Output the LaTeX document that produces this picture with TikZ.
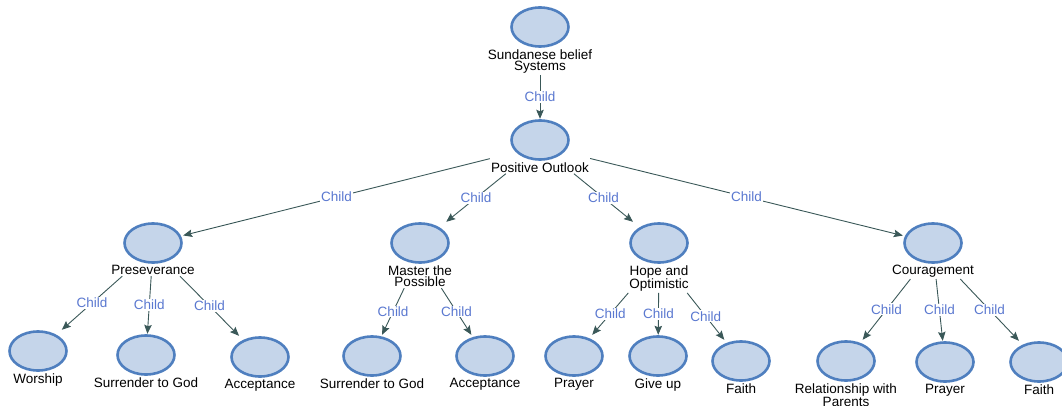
\documentclass[tikz,border=0pt]{standalone}
\usepackage{fontspec}
\setmainfont{Liberation Sans}
\usetikzlibrary{positioning,fit,arrows.meta}
\definecolor{bubfill}{HTML}{C5D5EA}
\definecolor{bubline}{HTML}{4F7FBF}
\definecolor{edgecol}{HTML}{3A5858}
\definecolor{childblue}{HTML}{5A78D0}
\begin{document}
\begin{tikzpicture}[x=1pt,y=-1pt,
    every node/.style={font=\fontsize{13.5}{11.5}\selectfont},
    bubble/.style={rectangle, minimum width=60pt, minimum height=42pt, inner sep=0pt,
      path picture={\draw[line width=2.6pt, draw=bubline, fill=bubfill]
        (path picture bounding box.center) ellipse (28.5pt and 19.5pt);}},
    txt/.style={inner sep=1pt, align=center, below=0pt of #1},
    hub/.style={inner sep=0pt, draw=none},
    edge/.style={draw=edgecol, line width=0.9pt, -{Stealth[length=9pt,width=7.5pt,inset=1.5pt]}},
    lab/.style={midway, fill=white, inner sep=1pt, text=childblue}]
  \useasboundingbox (0,0) rectangle (1062,406);
  % top two levels
  \node[bubble] (sbs) at (540,27) {};
  \node[txt=sbs] (sbsL) {Sundanese belief\\Systems};
  \node[bubble] (po) at (540,140) {};
  \node[txt=po] (poL) {Positive Outlook};
  % middle level
  \node[bubble] (pre) at (153,243) {};
  \node[txt=pre] (preL) {Preseverance};
  \node[bubble] (mtp) at (420,243) {};
  \node[txt=mtp] (mtpL) {Master the\\Possible};
  \node[bubble] (hao) at (659,243) {};
  \node[txt=hao] (haoL) {Hope and\\Optimistic};
  \node[bubble] (cou) at (933,243) {};
  \node[txt=cou] (couL) {Couragement};
  % bottom level
  \node[bubble] (wor) at (38,351) {};
  \node[txt=wor] (worL) {Worship};
  \node[bubble] (sur1) at (146,355) {};
  \node[txt=sur1] (sur1L) {Surrender to God};
  \node[bubble] (acc1) at (260,357) {};
  \node[txt=acc1] (acc1L) {Acceptance};
  \node[bubble] (sur2) at (372,356) {};
  \node[txt=sur2] (sur2L) {Surrender to God};
  \node[bubble] (acc2) at (485,356) {};
  \node[txt=acc2] (acc2L) {Acceptance};
  \node[bubble] (pra1) at (574,356) {};
  \node[txt=pra1] (pra1L) {Prayer};
  \node[bubble] (giv) at (658,356) {};
  \node[txt=giv] (givL) {Give up};
  \node[bubble] (fai1) at (741,361) {};
  \node[txt=fai1] (fai1L) {Faith};
  \node[bubble] (rel) at (846,361) {};
  \node[txt=rel] (relL) {Relationship with\\Parents};
  \node[bubble] (pra2) at (945,362) {};
  \node[txt=pra2] (pra2L) {Prayer};
  \node[bubble] (fai2) at (1039,362) {};
  \node[txt=fai2] (fai2L) {Faith};
  % boxes round bubble and text, edges start on them
  \foreach \p in {sbs,po,pre,mtp,hao,cou}
    \node[hub, fit=(\p)(\p L)] (\p H) {};
  \draw[edge] (sbsH) -- node[lab] {Child} (po);
  \foreach \c in {pre,mtp,hao,cou}
    \draw[edge] (poH) -- node[lab] {Child} (\c);
  \foreach \c in {wor,sur1,acc1}
    \draw[edge] (preH) -- node[lab] {Child} (\c);
  \foreach \c in {sur2,acc2}
    \draw[edge] (mtpH) -- node[lab] {Child} (\c);
  \foreach \c in {pra1,giv,fai1}
    \draw[edge] (haoH) -- node[lab] {Child} (\c);
  \foreach \c in {rel,pra2,fai2}
    \draw[edge] (couH) -- node[lab] {Child} (\c);
\end{tikzpicture}
\end{document}
